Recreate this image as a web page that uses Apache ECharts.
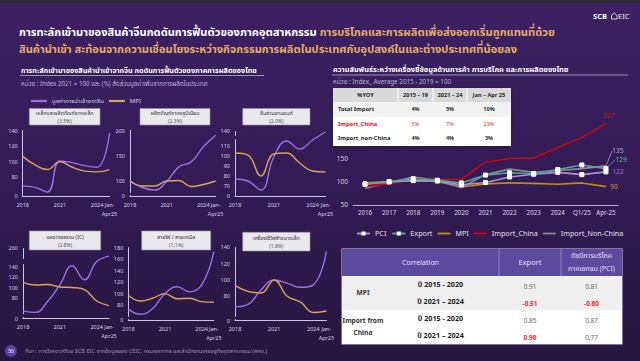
<!DOCTYPE html>
<html><head><meta charset="utf-8">
<script src="https://cdn.jsdelivr.net/npm/echarts@6/dist/echarts.min.js"></script>
<style>html,body{margin:0;padding:0;background:#2a1846;}#c{width:640px;height:361px;}</style>
</head><body><div id="c"></div>
<script>
// ---------- DATA ----------
const smallYears = ['2018','2019','2020','2021','2022','2023','2024','Jan-\nApr25'];
const panelNames = ['เหล็กและผลิตภัณฑ์จากเหล็ก','ผลิตภัณฑ์จากอลูมิเนียม','ชิ้นส่วนยานยนต์','แผงวงจรรวม (IC)','สายไฟ / สายเคเบิล','เครื่องใช้ไฟฟ้าขนาดเล็ก'];
const panelShares = ['(3.5%)','(2.3%)','(2.0%)','(2.8%)','(1.1%)','(1.8%)'];
const steelImport = [69, 67, 61, 101, 99, 95, 93, 137];
const steelMPI = [107, 96, 90, 100, 93, 88, 87, 90];
const aluImport = [100, 87, 82, 99, 128, 138, 168, 191];
const aluMPI = [100, 90, 90, 100, 101, 89, 93, 100];
const autoImport = [77, 75, 66, 99, 115, 107, 116, 139];
const autoMPI = [103, 101, 80, 102, 103, 93, 85, 84];
const icImport = [55, 52, 73, 105, 142, 115, 190, 245];
const icMPI = [110, 105, 106, 101, 100, 96, 74, 65];
const cableImport = [73, 64, 74, 100, 112, 103, 115, 173];
const cableMPI = [97, 87, 92, 100, 91, 92, 86, 85];
const applianceImport = [67, 70, 88, 100, 96, 91, 94, 135];
const applianceMPI = [93, 86, 84, 100, 80, 73, 60, 62];
const steelTicks = [0, 80, 100, 120, 140];
const aluTicks = [0, 100, 150, 200];
const autoTicks = [0, 70, 80, 90, 100, 110, 140];
const icTicks = [0, 80, 100, 120, 140, 260];
const cableTicks = [0, 80, 100, 120, 140, 160, 180];
const applianceTicks = [0, 80, 100, 120, 140];

const mainCats = ['2016','2017','2018','2019','2020','2021','2022','2023','2024','Q1/25','Apr-25'];
const mainTicks = [50, 100, 150];
const pci = [95, 100, 103, 102, 94, 99, 111, 117, 121, 116, 122];
const exportIdx = [96, 101, 107, 104, 98, 115, 120, 118, 127, 137, 129];
const mpi = [98, 101, 103, 101, 89, 96, 98, 97, 95, 98, 90];
const importChina = [90, 96, 106, 106, 106, 143, 151, 152, 175, 197, 227];
const importNonChina = [86, 99, 111, 104, 88, 116, 128, 121, 125, 129, 135];

const yoyHeader = ['%YOY','2015 – 19','2021 – 24','Jan – Apr 25'];
const yoyRows = ['Total Import','Import_China','Import_non-China'];
const yoyValues = [['4%','5%','10%'],['5%','7%','29%'],['4%','4%','3%']];

const corrHeader = ['Correlation','Export','ดัชนีการบริโภค\nภาคเอกชน (PCI)'];
const corrGroups = ['MPI','Import from\nChina'];
const corrPeriods = ['ปี 2015 - 2020','ปี 2021 – 2024'];
const corrValues = [[0.91, 0.81],[-0.51, -0.60],[0.85, 0.87],[0.98, 0.77]];
const corrRed = [[false,false],[true,true],[false,false],[true,false]];

// ---------- STYLE / LAYOUT ----------
const FONT = "'Noto Sans Thai','Noto Sans',Roboto,'DejaVu Sans',sans-serif";
const PURPLE = '#9c70ea', GOLD = '#d9a45c';
const AX = '#cfc6e2';
const LINE_ICON = 'path://M0,0H1V0.14H0Z';

const chart = echarts.init(document.getElementById('c'), null, {renderer:'svg'});

function txt(x, y, text, o) {
  o = o || {};
  return {type:'text', z:o.z||60, x:x, y:y, style:{text:text, fill:o.color||'#fff', fontSize:o.size||7,
    fontWeight:o.weight||'normal', fontFamily:FONT, align:o.align||'left', verticalAlign:o.valign||'middle',
    textAlign:o.align||'left', textVerticalAlign:o.valign||'middle', lineHeight:o.lh, rich:o.rich}};
}
function rect(x, y, w, h, fill, o) {
  o = o || {};
  return {type:'rect', z:o.z||50, shape:{x:x,y:y,width:w,height:h}, style:{fill:fill, stroke:o.stroke||null, lineWidth:o.lw||0, shadowBlur:o.sb||0, shadowColor:o.sc||'transparent', shadowOffsetX:o.sx||0, shadowOffsetY:o.sy||0}};
}
function seg(x1, y1, x2, y2, stroke, lw, z) {
  return {type:'line', z:z||55, shape:{x1:x1,y1:y1,x2:x2,y2:y2}, style:{stroke:stroke, lineWidth:lw||1}};
}

const panels = [
  {imp:steelImport, mpi:steelMPI, ticks:steelTicks, max:140, grid:{left:22.7, top:130.7, width:86.8, height:65.3}, breaks:[{start:2,end:60,gap:'2.4%'}], box:[29.3,108.5,70.7,16.5]},
  {imp:aluImport, mpi:aluMPI, ticks:aluTicks, max:200, grid:{left:130, top:130.7, width:85.6, height:65.3}, breaks:[{start:2,end:78,gap:'4.5%'}], box:[140,108.5,70,16.5]},
  {imp:autoImport, mpi:autoMPI, ticks:autoTicks, max:140, grid:{left:235, top:131, width:90.5, height:65}, breaks:[{start:1.5,end:63,gap:'2.3%'},{start:117,end:136,gap:'6.2%'}], box:[242.7,108.5,67.3,16.5]},
  {imp:icImport, mpi:icMPI, ticks:icTicks, max:260, grid:{left:23, top:248.3, width:86, height:70.4}, breaks:[{start:2,end:50,gap:'6%'},{start:145,end:240,gap:'7.9%'}], box:[29.3,231,71.4,19]},
  {imp:cableImport, mpi:cableMPI, ticks:cableTicks, max:180, grid:{left:128.3, top:247.7, width:85.6, height:72.3}, breaks:[{start:2,end:60,gap:'3.2%'}], box:[141.7,231,69,19]},
  {imp:applianceImport, mpi:applianceMPI, ticks:applianceTicks, max:140, grid:{left:235, top:247.3, width:91.4, height:73.4}, breaks:[{start:2,end:56,gap:'4.4%'}], box:[242.7,232.3,67.3,18.7]}
];

const grids = [], xAxes = [], yAxes = [], series = [], graphics = [], extraX = [];

graphics.push({type:'rect', z:-10, shape:{x:0,y:0,width:640,height:361}, style:{fill:{type:'linear',x:0,y:0,x2:0,y2:1,colorStops:[{offset:0,color:'#3d2164'},{offset:0.5,color:'#331b55'},{offset:1,color:'#27163f'}]}}});
graphics.push(rect(0,0,640,3,'#2e2a33',{z:-9}));

const smallLabel = {color:'#d8d0e8', fontSize:5.5, fontFamily:FONT, margin:4, lineHeight:9, hideOverlap:false};
panels.forEach(function(p, i) {
  grids.push(Object.assign({containLabel:false}, p.grid));
  xAxes.push({type:'category', gridIndex:i, data:smallYears, boundaryGap:false, position:'bottom', offset:0,
    axisLine:{lineStyle:{color:AX, width:1}}, axisTick:{show:false},
    axisLabel:Object.assign({}, smallLabel, {interval:function(idx){ return idx===0||idx===3||idx===6; }})});
  extraX.push({type:'category', gridIndex:i, data:smallYears, boundaryGap:false, position:'bottom', offset:0,
    axisLine:{show:false}, axisTick:{show:false}, splitLine:{show:false},
    axisLabel:Object.assign({}, smallLabel, {showMaxLabel:true, interval:function(idx){ return idx===7; }})});
  yAxes.push({type:'value', gridIndex:i, min:0, max:p.max, breaks:p.breaks, breakArea:{show:false},
    axisLine:{show:true, lineStyle:{color:AX, width:1}}, axisTick:{show:false}, splitLine:{show:false},
    axisLabel:{color:'#d8d0e8', fontSize:5.5, fontFamily:FONT, margin:5, customValues:p.ticks}});
  series.push({type:'line', name:'มูลค่าการนำเข้าจากจีน', xAxisIndex:i, yAxisIndex:i, data:p.imp, smooth:0.45,
    symbol:'none', color:PURPLE, lineStyle:{color:PURPLE, width:1.4}});
  series.push({type:'line', name:'MPI', xAxisIndex:i, yAxisIndex:i, data:p.mpi, smooth:0.45,
    symbol:'none', color:GOLD, lineStyle:{color:GOLD, width:1.4}});
  var b = p.box;
  graphics.push(rect(b[0], b[1], b[2], b[3], '#e9e8ec', {stroke:'#9a96a4', lw:0.6, z:70}));
  graphics.push(txt(b[0]+b[2]/2, b[1]+b[3]*0.3, panelNames[i], {color:'#333', size:5.2, align:'center', z:71}));
  graphics.push(txt(b[0]+b[2]/2, b[1]+b[3]*0.76, panelShares[i], {color:'#555', size:5, align:'center', z:71}));
});

// main chart
const mi = panels.length;
grids.push({left:353, top:113, width:265, height:92});
xAxes.push({type:'category', gridIndex:mi, data:mainCats, boundaryGap:true,
  axisLine:{lineStyle:{color:'#b9b2c8', width:1}}, axisTick:{show:false},
  axisLabel:{color:'#e0dcea', fontSize:6.2, fontFamily:FONT, margin:5, interval:0}});
yAxes.push({type:'value', gridIndex:mi, min:50, max:250, interval:50,
  axisLine:{show:false}, axisTick:{show:false}, splitLine:{show:false},
  axisLabel:{color:'#d8d4e0', fontSize:6.5, fontFamily:FONT, margin:5, customValues:mainTicks}});
extraX.forEach(function(a){ xAxes.push(a); });

function withLast(vals, color) {
  return vals.map(function(v, i) {
    return i === vals.length-1 ? {value:v, label:{show:true, position:'right', distance:4, color:color, fontSize:6.5, fontFamily:FONT, formatter:'{c}'}} : v;
  });
}
const C_PCI = '#a991dc', C_EXP = '#48ad98', C_MPI = '#c98a10', C_CN = '#c80a0a', C_NCN = '#8d8a92';
series.push({type:'line', name:'MPI', xAxisIndex:mi, yAxisIndex:mi, data:withLast(mpi, '#c99a3a'), symbol:'circle', symbolSize:0.5, color:C_MPI, lineStyle:{color:C_MPI, width:1.6}, z:2});
series.push({type:'line', name:'Import_Non-China', xAxisIndex:mi, yAxisIndex:mi, data:withLast(importNonChina, '#aeabb4'), symbol:'circle', symbolSize:0.5, color:C_NCN, lineStyle:{color:C_NCN, width:1.6}, z:2,
  labelLayout:{dx:2, dy:-15}, labelLine:{show:true, lineStyle:{color:'#aeabb4', width:0.7}}});
series.push({type:'line', name:'Import_China', xAxisIndex:mi, yAxisIndex:mi, data:withLast(importChina, '#c82020'), symbol:'circle', symbolSize:0.5, color:C_CN, lineStyle:{color:C_CN, width:1.6}, z:2,
  labelLayout:{dx:-7, dy:-8}});
series.push({type:'line', name:'PCI', xAxisIndex:mi, yAxisIndex:mi, data:withLast(pci, '#9a7bd8'), symbol:'rect', symbolSize:4, color:C_PCI, lineStyle:{color:C_PCI, width:1.6}, itemStyle:{color:'#fff', borderColor:'#fff'}, z:3});
series.push({type:'line', name:'Export', xAxisIndex:mi, yAxisIndex:mi, data:withLast(exportIdx, '#5fbcaa'), symbol:'rect', symbolSize:4, color:C_EXP, lineStyle:{color:C_EXP, width:1.6}, itemStyle:{color:'#fff', borderColor:'#fff'}, z:4,
  labelLayout:{dx:3, dy:-9}, labelLine:{show:true, lineStyle:{color:'#5fbcaa', width:0.7}}});

// ---------- TEXT GRAPHICS ----------
graphics.push(txt(593, 16, 'SCB', {size:7.5, weight:'bold'}));
graphics.push({type:'polyline', z:60, shape:{points:[[611.5,19],[611.5,15.5],[614.2,13],[617,15.5],[617,19],[611.5,19]]}, style:{stroke:'#fff', lineWidth:0.8, fill:'none'}});
graphics.push(txt(618, 16, 'EIC', {size:7.5, color:'#f0eef5'}));
graphics.push(txt(19, 32, '{w|การทะลักเข้ามาของสินค้าจีนกดดันการฟื้นตัวของภาคอุตสาหกรรม }{g|การบริโภคและการผลิตเพื่อส่งออกเริ่มถูกแทนที่ด้วย}', {
  rich:{w:{fill:'#ffffff', fontSize:11.1, fontWeight:'bold', fontFamily:FONT}, g:{fill:'#e3ad68', fontSize:11.1, fontWeight:'bold', fontFamily:FONT}}}));
graphics.push(txt(19, 49, 'สินค้านำเข้า สะท้อนจากความเชื่อมโยงระหว่างกิจกรรมการผลิตในประเทศกับอุปสงค์ในและต่างประเทศที่น้อยลง', {size:11.1, weight:'bold', color:'#e3ad68'}));
graphics.push(txt(21, 70, 'การทะลักเข้ามาของสินค้านำเข้าจากจีน กดดันการฟื้นตัวของภาคการผลิตของไทย', {size:7.2, weight:'bold'}));
graphics.push(seg(20, 75.5, 264, 75.5, '#b8aed0', 0.8));
graphics.push(txt(21, 84, 'หน่วย : Index 2021 = 100 และ (%) สัดส่วนมูลค่าเพิ่มจากการผลิตในประเทศ', {size:6.2, color:'#bdb4d0'}));
graphics.push(txt(333, 69.3, 'ความสัมพันธ์ระหว่างเครื่องชี้ข้อมูลด้านการค้า การบริโภค และการผลิตของไทย', {size:7.4, weight:'bold'}));
graphics.push(seg(332, 75, 628, 75, '#b8aed0', 0.8));
graphics.push(txt(333, 81.7, 'หน่วย : Index_ Average 2015 - 2019 = 100', {size:6.3, color:'#bdb4d0'}));

(function() {
  const cx = [333, 398, 433, 467, 511], ry = [88, 102, 117, 131, 146];
  graphics.push(rect(cx[0], ry[0], cx[4]-cx[0], ry[4]-ry[0], '#ffffff', {z:80, sb:3, sc:'rgba(0,0,0,0.35)', sy:1}));
  graphics.push(rect(cx[0], ry[0], cx[4]-cx[0], ry[1]-ry[0], '#d9d9d9', {z:81}));
  graphics.push(rect(cx[0], ry[1], cx[4]-cx[0], ry[2]-ry[1], '#f2f2f2', {z:81}));
  for (let c = 1; c < 4; c++) graphics.push(seg(cx[c], ry[0], cx[c], ry[1], '#ffffff', 1, 82));
  for (let c = 0; c < 4; c++) graphics.push(txt((cx[c]+cx[c+1])/2, (ry[0]+ry[1])/2, yoyHeader[c], {size:5.6, weight:'bold', color:'#222', align:'center', z:83}));
  for (let r = 0; r < 3; r++) {
    const col = r === 1 ? '#d0161b' : '#222';
    const yy = (ry[r+1]+ry[r+2])/2;
    graphics.push(txt(338, yy, yoyRows[r], {size:5.8, weight:'bold', color:col, z:83}));
    for (let c = 0; c < 3; c++) graphics.push(txt((cx[c+1]+cx[c+2])/2, yy, yoyValues[r][c], {size:5.6, weight: r===1?'normal':'bold', color: r===1?'#e0383c':'#333', align:'center', z:83}));
  }
})();

(function() {
  const cx = [342, 382, 499, 561, 622], ry = [249, 276, 293, 310, 327, 344];
  graphics.push(rect(cx[0]-0.5, ry[0]-0.5, cx[4]-cx[0]+1, ry[5]-ry[0]+1, '#d8d4e8', {z:80}));
  graphics.push(rect(cx[0], ry[0], cx[4]-cx[0], ry[1]-ry[0], '#5b4b9f', {z:81}));
  graphics.push(rect(cx[0], ry[1], cx[4]-cx[0], ry[3]-ry[1], '#efefef', {z:81}));
  graphics.push(rect(cx[0], ry[3], cx[4]-cx[0], ry[5]-ry[3], '#ffffff', {z:81}));
  graphics.push(seg(cx[2], ry[0], cx[2], ry[1], '#8e82c4', 1, 82));
  graphics.push(seg(cx[3], ry[0], cx[3], ry[1], '#8e82c4', 1, 82));
  graphics.push(txt((cx[0]+cx[2])/2, (ry[0]+ry[1])/2, corrHeader[0], {size:7, color:'#e4e0f2', align:'center', z:83}));
  graphics.push(txt((cx[2]+cx[3])/2, (ry[0]+ry[1])/2, corrHeader[1], {size:7.5, color:'#e4e0f2', align:'center', z:83}));
  graphics.push(txt((cx[3]+cx[4])/2, (ry[0]+ry[1])/2, corrHeader[2], {size:7, color:'#e4e0f2', align:'center', lh:13, z:83}));
  for (let g = 0; g < 2; g++) {
    graphics.push(txt((cx[0]+cx[1])/2 + 1, (ry[g*2+1]+ry[g*2+3])/2, corrGroups[g], {size:6.6, weight:'bold', color:'#333', align:'center', lh:12, z:83}));
  }
  for (let r = 0; r < 4; r++) {
    const yy = (ry[r+1]+ry[r+2])/2;
    graphics.push(txt((cx[1]+cx[2])/2, yy - 0.5, corrPeriods[r % 2], {size:7.2, weight:'bold', color:'#222', align:'center', z:83}));
    for (let c = 0; c < 2; c++) {
      const red = corrRed[r][c];
      graphics.push(txt((cx[c+2]+cx[c+3])/2, yy + 2, corrValues[r][c].toFixed(2), {size:6.4, weight: red?'bold':'normal', color: red?'#e8262d':'#666', align:'center', z:83}));
    }
  }
})();

graphics.push({type:'circle', z:60, shape:{cx:11, cy:351, r:6}, style:{fill:'#5a3fa6'}});
graphics.push(txt(11, 351, '50', {size:5, color:'#fff', align:'center'}));
graphics.push(txt(25, 351, 'ที่มา : การวิเคราะห์โดย SCB EIC จากข้อมูลของ CEIC, กรมศุลกากร และสำนักงานเศรษฐกิจอุตสาหกรรม (สศอ.)', {size:5.6, color:'#9d93b5'}));

chart.setOption({
  animation:false,
  textStyle:{fontFamily:FONT},
  grid:grids, xAxis:xAxes, yAxis:yAxes, series:series,
  legend:[
    {data:['มูลค่าการนำเข้าจากจีน','MPI'], left:26, top:93, itemWidth:16, itemHeight:5, itemGap:5,
      textStyle:{color:'#d8d0e8', fontSize:6, fontFamily:FONT}, icon:LINE_ICON},
    {data:[{name:'PCI'},{name:'Export'},
           {name:'MPI', icon:LINE_ICON, itemStyle:{color:C_MPI}},
           {name:'Import_China', icon:LINE_ICON, itemStyle:{color:C_CN}},
           {name:'Import_Non-China', icon:LINE_ICON, itemStyle:{color:C_NCN}}],
      left:356, top:230, width:284, padding:0, itemWidth:13, itemHeight:5, itemGap:5,
      textStyle:{color:'#e6e2ee', fontSize:7.2, fontFamily:FONT}}
  ],
  graphic:{elements:graphics}
});
</script></body></html>
